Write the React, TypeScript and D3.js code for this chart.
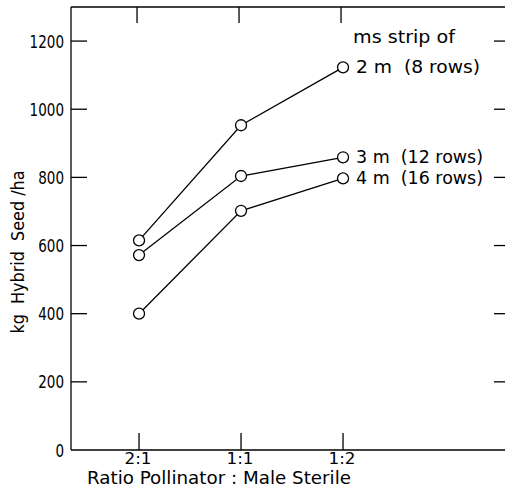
import React from "react";
import * as d3 from "d3";

const categories = ["2:1", "1:1", "1:2"];
const seriesNames = ["2 m  (8 rows)", "3 m  (12 rows)", "4 m  (16 rows)"];
const strip2m = [615, 953, 1123];
const strip3m = [572, 804, 859];
const strip4m = [400, 702, 797];
const yTicks = [0, 200, 400, 600, 800, 1000, 1200];
const legendTitle = "ms strip of";
const xTitle = "Ratio Pollinator : Male Sterile";
const yTitle = "kg  Hybrid  Seed /ha";

export default function App() {
  const W = 505, H = 493;
  const x = d3.scaleLinear().domain([-0.667, 3.588]).range([71, 505]);
  const y = d3.scaleLinear().domain([0, 1300]).range([450, 7]);
  const series = [strip2m, strip3m, strip4m];
  const nameLens = [124, 127, 127];
  const line = d3.line<number>().x((_, i) => x(i)).y((d) => y(d));
  const font = "'DejaVu Sans', sans-serif";
  const fs = 18;
  const sw = 1.3;
  const adj = "spacingAndGlyphs";
  const pre = { whiteSpace: "pre" as const };
  return (
    <svg width={W} height={H} style={{ position: "fixed", left: 0, top: 0, background: "#fff" }}>
      <rect width={W} height={H} fill="#fff" />
      {/* frame */}
      <line x1={x.range()[0]} x2={x.range()[0]} y1={y(1300)} y2={y(0)} stroke="#000" strokeWidth={sw} />
      <line x1={x.range()[0]} x2={W} y1={y(1300)} y2={y(1300)} stroke="#000" strokeWidth={sw} />
      <line x1={x.range()[0]} x2={W} y1={y(0)} y2={y(0)} stroke="#000" strokeWidth={sw} />
      {/* y ticks left and right */}
      {yTicks.map((t) => (
        <g key={t}>
          {t > 0 && <line x1={71} x2={87} y1={y(t)} y2={y(t)} stroke="#000" strokeWidth={sw} />}
          {t > 0 && <line x1={494} x2={W} y1={y(t)} y2={y(t)} stroke="#000" strokeWidth={sw} />}
          <text x={64} y={y(t) + 6.5} textAnchor="end" fontFamily={font} fontSize={fs} textLength={String(t).length * 8.6} lengthAdjust={adj}>{t}</text>
        </g>
      ))}
      {/* x ticks bottom and top */}
      {categories.map((c, i) => (
        <g key={c}>
          <line x1={x(i)} x2={x(i)} y1={y(0)} y2={y(0) - 17} stroke="#000" strokeWidth={sw} />
          <line x1={x(i) - 2} x2={x(i) - 2} y1={y(1300)} y2={y(1300) + 16} stroke="#000" strokeWidth={sw} />
          <text x={x(i) - 1} y={464} textAnchor="middle" fontFamily={font} fontSize={15} textLength={27} lengthAdjust={adj}>{c}</text>
        </g>
      ))}
      {/* series */}
      {series.map((s, k) => (
        <g key={k}>
          <path d={line(s) || ""} fill="none" stroke="#000" strokeWidth={sw} />
          {s.map((v, i) => (
            <circle key={i} cx={x(i)} cy={y(v)} r={5.5} fill="#fff" stroke="#000" strokeWidth={sw} />
          ))}
          <text x={x(2) + 13} y={y(s[2]) + 6} fontFamily={font} fontSize={fs} style={pre} textLength={nameLens[k]} lengthAdjust={adj}>{seriesNames[k]}</text>
        </g>
      ))}
      <text x={353} y={43} fontFamily={font} fontSize={fs} textLength={102} lengthAdjust={adj}>{legendTitle}</text>
      {/* axis titles */}
      <text x={87} y={484} fontFamily={font} fontSize={17} textLength={264} lengthAdjust={adj}>{xTitle}</text>
      <text transform={`translate(24, 252) rotate(-90)`} textAnchor="middle" fontFamily={font} fontSize={fs} style={pre} textLength={163} lengthAdjust={adj}>{yTitle}</text>
    </svg>
  );
}
